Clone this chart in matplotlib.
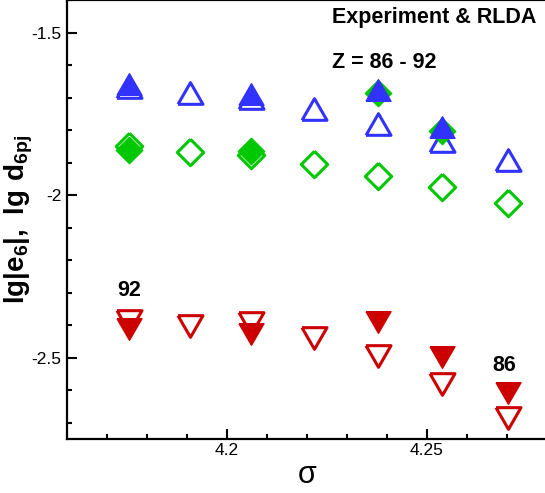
import numpy as np
import matplotlib
matplotlib.use("Agg")
import matplotlib.pyplot as plt
from matplotlib.markers import MarkerStyle
from matplotlib.ticker import MultipleLocator, FuncFormatter

plt.rcParams['font.family'] = ['Liberation Sans', 'DejaVu Sans']
plt.rcParams['axes.unicode_minus'] = False
plt.rcParams['mathtext.fontset'] = 'custom'
plt.rcParams['mathtext.rm'] = 'Liberation Sans'
plt.rcParams['mathtext.bf'] = 'Liberation Sans:bold'

# sigma for Z = 92 ... 86
sigma = [4.1755, 4.1907, 4.2061, 4.2218, 4.2377, 4.2537, 4.2702]
exp_idx = [0, 2, 4, 5]          # columns that have experimental points
exp_idx_red = [0, 2, 4, 5, 6]

# RLDA (open symbols)
blue_rlda = [-1.668, -1.685, -1.700, -1.736, -1.781, -1.835, -1.893]
green_rlda = [-1.848, -1.868, -1.878, -1.905, -1.940, -1.974, -2.023]
red_rlda = [-2.387, -2.401, -2.393, -2.439, -2.496, -2.581, -2.684]

# experiment (filled symbols)
blue_exp = [-1.658, -1.690, -1.677, -1.790]
green_exp = [-1.860, -1.864, -1.686, -1.802]
red_exp = [-2.412, -2.426, -2.390, -2.4985, -2.609]

BLUE = '#3232ff'
GREEN = '#00c800'
RED = '#cc0000'

# tecplot style symbols
tri_up = MarkerStyle([(-1, -0.866), (1, -0.866), (0, 0.866), (-1, -0.866)], joinstyle='miter')
tri_dn = MarkerStyle([(-1, 0.866), (1, 0.866), (0, -0.866), (-1, 0.866)], joinstyle='miter')
diamond = MarkerStyle([(0, 1), (1, 0), (0, -1), (-1, 0), (0, 1)], joinstyle='miter')

fig = plt.figure(figsize=(5.45, 4.93), dpi=100)
ax = fig.add_axes([66.7 / 545, 54 / 493, 480 / 545, 439 / 493])

def pick(vals, idx):
    return [vals[i] for i in idx]

ms_tri = 18
ms_dia = 19
lw = 2.2

# open first, filled on top
ax.plot(sigma, red_rlda, ls='none', marker=tri_dn, ms=ms_tri, mfc='none', mec=RED, mew=lw)
ax.plot(sigma, green_rlda, ls='none', marker=diamond, ms=ms_dia, mfc='none', mec=GREEN, mew=lw)
ax.plot(sigma, blue_rlda, ls='none', marker=tri_up, ms=ms_tri, mfc='none', mec=BLUE, mew=lw)
ax.plot(pick(sigma, exp_idx_red), red_exp, ls='none', marker=tri_dn, ms=ms_tri, mfc=RED, mec=RED, mew=1)
ax.plot(pick(sigma, exp_idx), green_exp, ls='none', marker=diamond, ms=ms_dia, mfc=GREEN, mec=GREEN, mew=1)
ax.plot(pick(sigma, exp_idx), blue_exp, ls='none', marker=tri_up, ms=ms_tri, mfc=BLUE, mec=BLUE, mew=1)

ax.set_xlim(4.16, 4.28)
ax.set_ylim(-2.75, -1.4)

ax.xaxis.set_major_locator(MultipleLocator(0.05))
ax.xaxis.set_minor_locator(MultipleLocator(0.01))
ax.yaxis.set_major_locator(MultipleLocator(0.5))
ax.yaxis.set_minor_locator(MultipleLocator(0.1))
fmt = FuncFormatter(lambda v, p: '%g' % round(v, 4))
ax.xaxis.set_major_formatter(fmt)
ax.yaxis.set_major_formatter(fmt)

ax.tick_params(which='both', direction='in', width=1.5, top=False, right=False,
               labelsize=12.5)
ax.tick_params(which='major', length=7, pad=4)
ax.tick_params(axis='x', which='major', pad=3)
ax.tick_params(which='minor', length=3.5)
for s in ax.spines.values():
    s.set_linewidth(1.6)

ax.set_xlabel('σ', fontsize=22, labelpad=1)
ax.set_ylabel(r'$\mathbf{lg|e}_\mathbf{6}\mathbf{|,\ lg\ d}_\mathbf{6pj}$', fontsize=20, labelpad=-3)

ax.text(4.2263, -1.4537, 'Experiment & RLDA', fontsize=15.5, fontweight='bold', va='center', ha='left')
ax.text(4.2263, -1.5907, 'Z = 86 - 92', fontsize=15.5, fontweight='bold', va='center', ha='left')
ax.text(4.1757, -2.294, '92', fontsize=15.5, fontweight='bold', va='center', ha='center')
ax.text(4.2695, -2.5225, '86', fontsize=15.5, fontweight='bold', va='center', ha='center')

fig.savefig('out.png', dpi=100)
